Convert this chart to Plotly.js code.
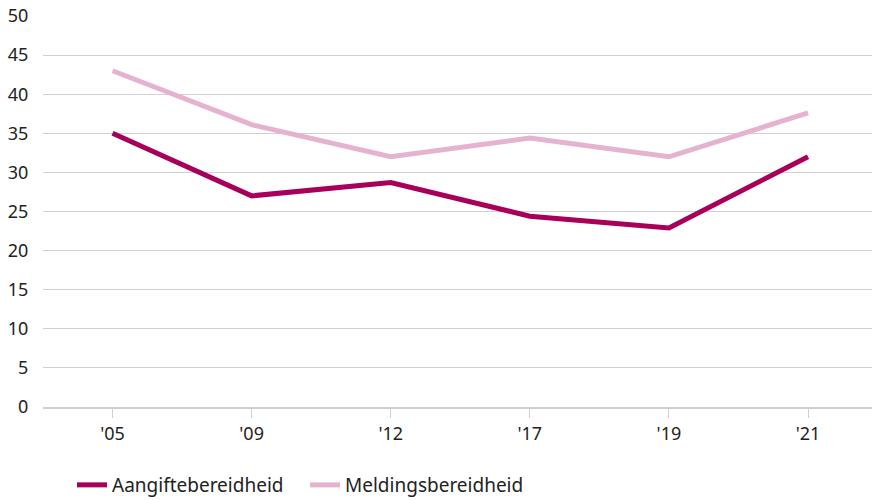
<!DOCTYPE html>
<html>
<head>
<meta charset="utf-8">
<script src="https://cdn.plot.ly/plotly-3.0.1.min.js"></script>
<style>html,body{margin:0;padding:0;background:#fff;}#chart{width:872px;height:500px;}</style>
</head>
<body>
<div id="chart"></div>
<script>
const years = ["'05", "'09", "'12", "'17", "'19", "'21"];
const aangifte = [35.0, 27.0, 28.7, 24.4, 22.9, 32.0];
const melding = [43.0, 36.1, 32.0, 34.4, 32.0, 37.6];
const names = ["Aangiftebereidheid", "Meldingsbereidheid"];
const colors = ["#a8005a", "#e5b3d0"];

const traces = [
  {x: years, y: aangifte, name: names[0], type: 'scatter', mode: 'lines', line: {color: colors[0], width: 5}},
  {x: years, y: melding, name: names[1], type: 'scatter', mode: 'lines', line: {color: colors[1], width: 5}}
];

const layout = {
  width: 872, height: 500,
  margin: {l: 43, r: 0, t: 16, b: 93},
  paper_bgcolor: '#fff', plot_bgcolor: '#fff',
  font: {family: '"Noto Sans", sans-serif', size: 18, color: '#222'},
  showlegend: true,
  legend: {orientation: 'h', x: 0.035, xanchor: 'left', yref: 'container', y: 0.03, yanchor: 'middle', traceorder: 'normal',
           entrywidth: 188, entrywidthmode: 'pixels', font: {size: 19, color: '#222'}},
  xaxis: {
    type: 'category', range: [-0.5, 5.46], fixedrange: true,
    showgrid: false, zeroline: false,
    showline: true, linecolor: '#d0d0d0', linewidth: 2,
    ticks: 'outside', ticklen: 9, tickcolor: '#d0d0d0', tickwidth: 1,
    tickfont: {size: 18, color: '#222'}
  },
  yaxis: {
    range: [0, 50], dtick: 5, tick0: 0, fixedrange: true,
    showgrid: true, gridcolor: '#d0d0d0', gridwidth: 1,
    zeroline: false, showline: false,
    ticks: 'outside', ticklen: 10, tickcolor: 'rgba(0,0,0,0)',
    tickfont: {size: 18, color: '#222'}
  }
};

Plotly.newPlot('chart', traces, layout, {displayModeBar: false, staticPlot: true});
</script>
</body>
</html>
